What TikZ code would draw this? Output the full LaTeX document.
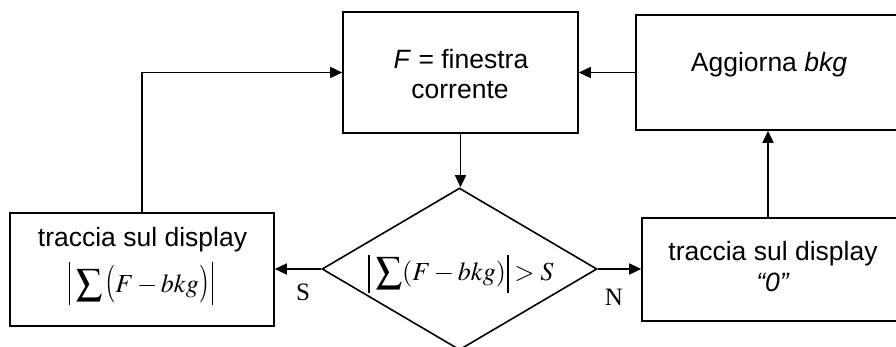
\documentclass[tikz,border=0pt]{standalone}
\usepackage{mathptmx}
\usepackage[no-math]{fontspec}
\usepackage{graphicx}
\setmainfont{Liberation Sans}
\newfontfamily\tms{Liberation Serif}
\usetikzlibrary{arrows.meta,shapes.geometric}
\newcommand{\myvbar}[1]{\rule[-13pt]{1.3pt}{#1}}
\newcommand{\mytallp}[1]{\raisebox{-1.5pt}{\scalebox{1}[1.45]{$#1$}}}
\begin{document}
\begin{tikzpicture}[x=1pt,y=-1pt,line width=1.6pt,
  box/.style={draw,rectangle,inner sep=0pt},
  txt/.style={anchor=base,inner sep=0pt,font=\fontsize{26.5}{30}\selectfont},
  mth/.style={anchor=base,inner sep=0pt,font=\fontsize{26}{30}\selectfont},
  lbl/.style={anchor=base,inner sep=0pt,font=\fontsize{25}{30}\selectfont\tms},
  arr/.style={-{Triangle[length=12pt,width=11pt]}}]
\useasboundingbox (0,0) rectangle (896,347);
\clip (0,0) rectangle (896,347);
% boxes
\node[box,minimum width=235pt,minimum height=121pt] (F) at (460.5,72.5) {};
\node[box,minimum width=264pt,minimum height=115pt] (A) at (768,72.5) {};
\node[box,minimum width=264pt,minimum height=113pt] (L) at (142,269.5) {};
\node[box,minimum width=262pt,minimum height=103pt] (R) at (773,269.5) {};
\node[draw,diamond,aspect=1.7,inner sep=0pt,minimum width=275pt,minimum height=162pt] (D) at (459.5,269) {};
% texts
\node[txt] (t1) at (461,69) {\textit{F} = finestra};
\node[txt] (t2) at (460,99) {corrente};
\node[txt] (t3) at (769,72) {Aggiorna \textit{bkg}};
\node[txt] (t4) at (142.5,247) {traccia sul display};
\node[mth] (t5) at (141,292) {$\displaystyle\myvbar{43pt}\mkern2mu\sum\mytallp{(}F-bkg\mytallp{)}\mkern2mu\myvbar{43pt}$};
\node[mth] (t6) at (461,280) {$\displaystyle\myvbar{38pt}\mkern2mu\sum(F-bkg)\mkern1mu\myvbar{38pt}>S$};
\node[txt] (t7) at (773,261) {traccia sul display};
\node[txt] (t8) at (773,291) {\textit{“0”}};
\node[lbl] (s) at (303,300) {S};
\node[lbl] (n) at (614,305) {N};
% connectors
\draw[arr] (F.south) -- (F.south |- D.north);
\draw[arr] (A.west) -- (A.west -| F.east);
\draw[arr] (D.west) -- (D.west -| L.east);
\draw[arr] (D.east) -- (D.east -| R.west);
\draw[arr] (A.south |- R.north) -- (A.south);
\draw[arr] (L.north) |- (F.west);
\end{tikzpicture}
\end{document}
